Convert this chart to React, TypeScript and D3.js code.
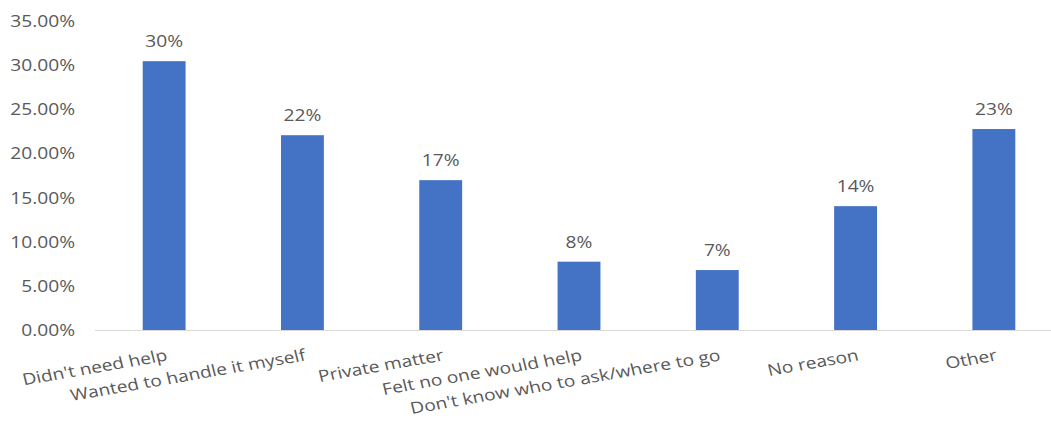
import React from "react";
import * as d3 from "d3";

const categories = [
  "Didn't need help",
  "Wanted to handle it myself",
  "Private matter",
  "Felt no one would help",
  "Don't know who to ask/where to go",
  "No reason",
  "Other",
];
const values = [0.305, 0.221, 0.17, 0.0775, 0.068, 0.1405, 0.228];
const valueLabels = ["30%", "22%", "17%", "8%", "7%", "14%", "23%"];
const yTicks = [0, 0.05, 0.1, 0.15, 0.2, 0.25, 0.3, 0.35];

const W = 1051;
const H = 432;
const SX = 1.2;
const FS = 16;
const FONT = "'Open Sans', sans-serif";
const TXT = "#595959";

export default function App() {
  const x = d3.scaleBand<string>().domain(categories).range([95, 1063]).paddingInner(0.69).paddingOuter(0.345);
  const y = d3.scaleLinear().domain([0, 0.35]).range([330, 21.5]);
  const fmt = d3.format(".2%");
  return (
    <svg width={W} height={H} style={{ position: "absolute", left: 0, top: 0, display: "block" }}>
      <rect width={W} height={H} fill="#fff" />
      {yTicks.map((t) => (
        <text key={t} transform={`translate(75,${y(t)}) scale(${SX},1)`} textAnchor="end" dy="0.36em" fontSize={FS} fontFamily={FONT} fill={TXT}>
          {fmt(t)}
        </text>
      ))}
      {categories.map((c, i) => (
        <rect key={c} x={x(c)} y={y(values[i])} width={x.bandwidth()} height={y(0) - y(values[i])} fill="#4472C4" />
      ))}
      <line x1={95} x2={W} y1={y(0) + 0.5} y2={y(0) + 0.5} stroke="#D9D9D9" strokeWidth={1.2} />
      {categories.map((c, i) => (
        <text key={c + "l"} transform={`translate(${x(c)! + x.bandwidth() / 2},${y(values[i]) - 14}) scale(${SX},1)`} textAnchor="middle" fontSize={FS} fontFamily={FONT} fill={TXT}>
          {valueLabels[i]}
        </text>
      ))}
      {categories.map((c) => (
        <text key={c + "c"} transform={`translate(${x(c)! + x.bandwidth() / 2 + 1},348) scale(${SX},1) rotate(-11.8)`} textAnchor="end" dy="0.78em" fontSize={FS} fontFamily={FONT} fill={TXT}>
          {c}
        </text>
      ))}
    </svg>
  );
}
